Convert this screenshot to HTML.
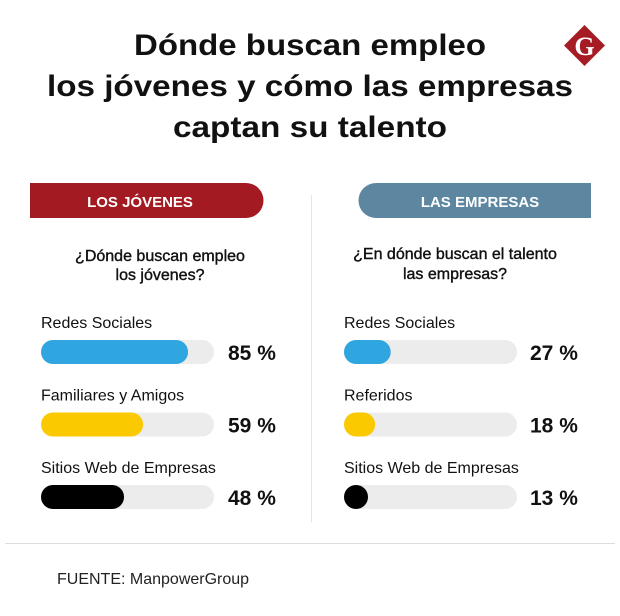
<!DOCTYPE html>
<html><head><meta charset="utf-8"><style>
html,body{margin:0;padding:0;background:#fff}
svg{display:block;font-family:"Liberation Sans",sans-serif}
</style></head><body>
<svg id="c" width="620" height="616" viewBox="0 0 620 616">
<text x="310" y="55" text-anchor="middle" font-size="30" font-weight="bold" fill="#111" textLength="352" lengthAdjust="spacingAndGlyphs">Dónde buscan empleo</text>
<text x="310" y="96" text-anchor="middle" font-size="30" font-weight="bold" fill="#111" textLength="526" lengthAdjust="spacingAndGlyphs">los jóvenes y cómo las empresas</text>
<text x="310" y="137" text-anchor="middle" font-size="30" font-weight="bold" fill="#111" textLength="274" lengthAdjust="spacingAndGlyphs">captan su talento</text>
<g>
<rect x="570" y="31" width="29" height="29" fill="#a51c24" transform="rotate(45 584.5 45.5)"/>
<text x="584.5" y="55" text-anchor="middle" font-family="Liberation Serif,serif" font-weight="bold" font-size="26" fill="#fff">G</text>
</g>
<path d="M30 183 H246 A17.5 17.5 0 0 1 246 218 H30 Z" fill="#a31a22"/>
<text x="140" y="207" text-anchor="middle" font-size="15" font-weight="bold" fill="#fff">LOS JÓVENES</text>
<path d="M591 183 H376 A17.5 17.5 0 0 0 376 218 H591 Z" fill="#5d87a1"/>
<text x="480" y="207" text-anchor="middle" font-size="15" font-weight="bold" fill="#fff">LAS EMPRESAS</text>
<line x1="311.5" y1="195" x2="311.5" y2="522" stroke="#e4e4e4"/>
<line x1="5" y1="543.5" x2="615" y2="543.5" stroke="#ddd"/>
<g stroke="#111" stroke-width="0.4">
<text x="160" y="261" text-anchor="middle" font-size="16" fill="#111">¿Dónde buscan empleo</text>
<text x="160" y="280" text-anchor="middle" font-size="16" fill="#111">los jóvenes?</text>
<text x="455" y="259" text-anchor="middle" font-size="16" fill="#111">¿En dónde buscan el talento</text>
<text x="455" y="279" text-anchor="middle" font-size="16" fill="#111">las empresas?</text>
</g>
<text x="57" y="584" font-size="16" fill="#222">FUENTE: ManpowerGroup</text>
<g id="bars"></g>
</svg>
<script>
const leftCategories=["Redes Sociales","Familiares y Amigos","Sitios Web de Empresas"];
const leftValues=[85,59,48];
const rightCategories=["Redes Sociales","Referidos","Sitios Web de Empresas"];
const rightValues=[27,18,13];
const barColors=["#2fa6df","#fbc900","#000000"];
const NS="http://www.w3.org/2000/svg";
const g=document.getElementById('bars');
function el(t,a){const e=document.createElementNS(NS,t);for(const k in a)e.setAttribute(k,a[k]);g.appendChild(e);return e;}
const trackW=173,barH=24;
function xScale(v){return v/100*trackW;}
function yRow(i){return 340+i*72.5;}
function draw(cats,vals,x0,vx,side){
 cats.forEach((c,i)=>{
  const y=yRow(i);
  const l=el('text',{x:x0,y:y-12,'font-size':16,fill:'#111'});l.textContent=c;
  
  
  const tr=el('rect',{x:x0,y:y,width:trackW,height:barH,rx:12,fill:'#ececec'});
  
  
  const w=Math.max(xScale(vals[i]),barH);
  const b=el('rect',{x:x0,y:y,width:w,height:barH,rx:12,fill:barColors[i]});
  
  
  const v=el('text',{x:vx,y:y+20,'font-size':21,'font-weight':'bold',fill:'#111'});v.textContent=vals[i]+' %';
  
  
 });
}
draw(leftCategories,leftValues,41,228,'jovenes');
draw(rightCategories,rightValues,344,530,'empresas');
</script>
</body></html>
